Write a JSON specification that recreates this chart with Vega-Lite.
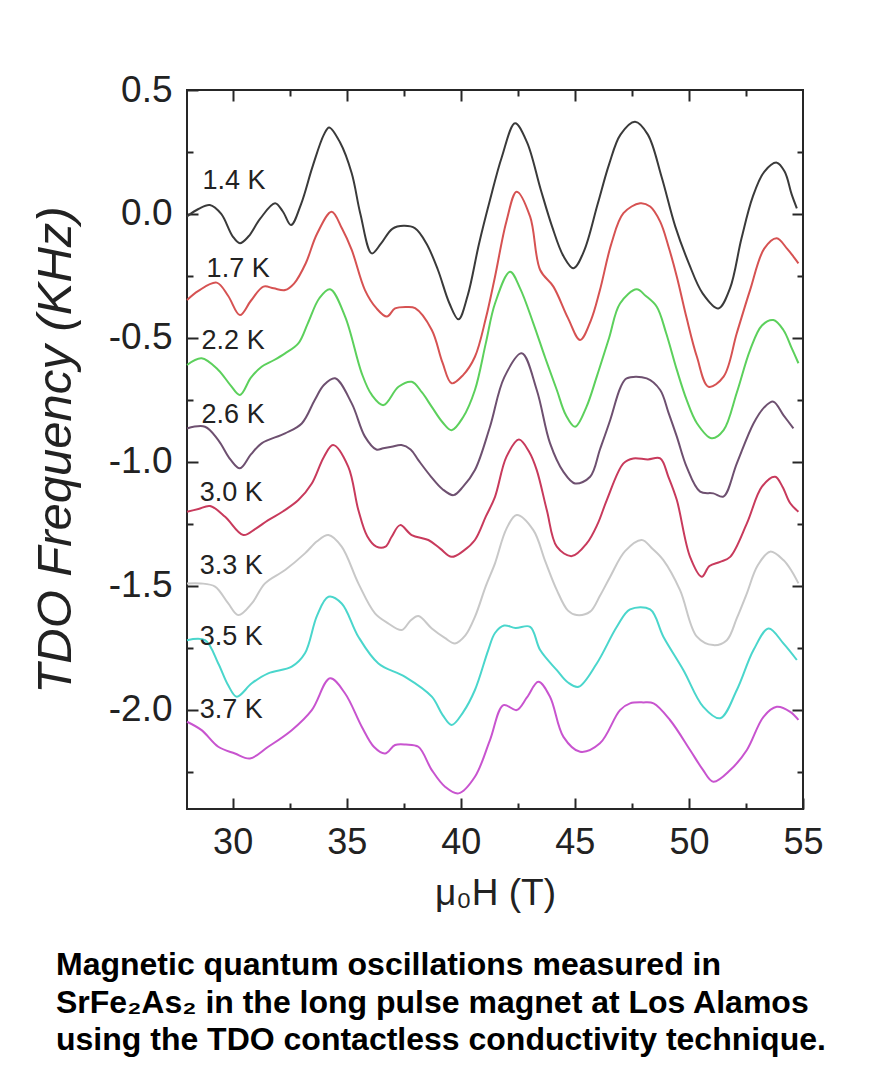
{
"$schema": "https://vega.github.io/schema/vega-lite/v6.json",
"width": 616, "height": 719,
"autosize": {"type": "none"},
"padding": {"left": 187, "top": 90, "right": 73, "bottom": 264},
"background": "white",
"config": {"view": {"stroke": "#262626", "strokeWidth": 2}, "font": "Liberation Sans"},
"title": {"text": ["Magnetic quantum oscillations measured in", "SrFe₂As₂ in the long pulse magnet at Los Alamos", "using the TDO contactless conductivity technique."], "orient": "bottom", "anchor": "start", "frame": "group", "dx": -131, "offset": 39, "fontSize": 32, "fontWeight": "bold", "font": "Liberation Sans", "lineHeight": 37.5, "color": "#000000"},
"datasets": {
"curves": [
{"T":"1.4 K","H":28.0,"f":-0.01},{"T":"1.4 K","H":28.5,"f":0.02},{"T":"1.4 K","H":29.0,"f":0.036},{"T":"1.4 K","H":29.5,"f":0.0},{"T":"1.4 K","H":30.0,"f":-0.09},{"T":"1.4 K","H":30.32,"f":-0.118},{"T":"1.4 K","H":30.7,"f":-0.09},{"T":"1.4 K","H":31.2,"f":-0.02},{"T":"1.4 K","H":31.86,"f":0.043},{"T":"1.4 K","H":32.2,"f":0.01},{"T":"1.4 K","H":32.56,"f":-0.045},{"T":"1.4 K","H":33.0,"f":0.04},{"T":"1.4 K","H":33.5,"f":0.19},{"T":"1.4 K","H":34.0,"f":0.32},{"T":"1.4 K","H":34.23,"f":0.349},{"T":"1.4 K","H":34.7,"f":0.29},{"T":"1.4 K","H":35.22,"f":0.164},{"T":"1.4 K","H":35.6,"f":0.0},{"T":"1.4 K","H":36.1,"f":-0.159},{"T":"1.4 K","H":36.5,"f":-0.12},{"T":"1.4 K","H":37.0,"f":-0.06},{"T":"1.4 K","H":37.5,"f":-0.048},{"T":"1.4 K","H":38.0,"f":-0.058},{"T":"1.4 K","H":38.5,"f":-0.12},{"T":"1.4 K","H":39.0,"f":-0.226},{"T":"1.4 K","H":39.5,"f":-0.36},{"T":"1.4 K","H":39.9,"f":-0.425},{"T":"1.4 K","H":40.3,"f":-0.33},{"T":"1.4 K","H":40.8,"f":-0.12},{"T":"1.4 K","H":41.28,"f":0.056},{"T":"1.4 K","H":41.8,"f":0.23},{"T":"1.4 K","H":42.38,"f":0.366},{"T":"1.4 K","H":42.9,"f":0.29},{"T":"1.4 K","H":43.5,"f":0.1},{"T":"1.4 K","H":44.0,"f":-0.05},{"T":"1.4 K","H":44.5,"f":-0.17},{"T":"1.4 K","H":44.94,"f":-0.219},{"T":"1.4 K","H":45.4,"f":-0.15},{"T":"1.4 K","H":46.0,"f":0.04},{"T":"1.4 K","H":46.5,"f":0.2},{"T":"1.4 K","H":47.0,"f":0.32},{"T":"1.4 K","H":47.64,"f":0.372},{"T":"1.4 K","H":48.2,"f":0.32},{"T":"1.4 K","H":48.8,"f":0.15},{"T":"1.4 K","H":49.4,"f":-0.05},{"T":"1.4 K","H":50.0,"f":-0.2},{"T":"1.4 K","H":50.6,"f":-0.32},{"T":"1.4 K","H":51.29,"f":-0.381},{"T":"1.4 K","H":51.8,"f":-0.3},{"T":"1.4 K","H":52.3,"f":-0.1},{"T":"1.4 K","H":52.8,"f":0.07},{"T":"1.4 K","H":53.3,"f":0.17},{"T":"1.4 K","H":53.85,"f":0.207},{"T":"1.4 K","H":54.2,"f":0.17},{"T":"1.4 K","H":54.5,"f":0.08},{"T":"1.4 K","H":54.73,"f":0.023},
{"T":"1.7 K","H":28.0,"f":-0.347},{"T":"1.7 K","H":28.5,"f":-0.31},{"T":"1.7 K","H":29.3,"f":-0.277},{"T":"1.7 K","H":29.8,"f":-0.33},{"T":"1.7 K","H":30.32,"f":-0.408},{"T":"1.7 K","H":30.8,"f":-0.35},{"T":"1.7 K","H":31.35,"f":-0.293},{"T":"1.7 K","H":31.8,"f":-0.3},{"T":"1.7 K","H":32.3,"f":-0.307},{"T":"1.7 K","H":32.7,"f":-0.28},{"T":"1.7 K","H":33.2,"f":-0.2},{"T":"1.7 K","H":33.7,"f":-0.08},{"T":"1.7 K","H":34.34,"f":0.009},{"T":"1.7 K","H":34.8,"f":-0.06},{"T":"1.7 K","H":35.22,"f":-0.145},{"T":"1.7 K","H":35.8,"f":-0.307},{"T":"1.7 K","H":36.3,"f":-0.38},{"T":"1.7 K","H":36.76,"f":-0.414},{"T":"1.7 K","H":37.12,"f":-0.381},{"T":"1.7 K","H":37.6,"f":-0.375},{"T":"1.7 K","H":38.0,"f":-0.38},{"T":"1.7 K","H":38.73,"f":-0.468},{"T":"1.7 K","H":39.2,"f":-0.6},{"T":"1.7 K","H":39.6,"f":-0.683},{"T":"1.7 K","H":40.1,"f":-0.65},{"T":"1.7 K","H":40.62,"f":-0.576},{"T":"1.7 K","H":41.1,"f":-0.42},{"T":"1.7 K","H":41.5,"f":-0.253},{"T":"1.7 K","H":42.0,"f":-0.03},{"T":"1.7 K","H":42.45,"f":0.09},{"T":"1.7 K","H":43.04,"f":-0.011},{"T":"1.7 K","H":43.48,"f":-0.226},{"T":"1.7 K","H":44.06,"f":-0.293},{"T":"1.7 K","H":44.7,"f":-0.42},{"T":"1.7 K","H":45.23,"f":-0.508},{"T":"1.7 K","H":45.7,"f":-0.43},{"T":"1.7 K","H":46.1,"f":-0.307},{"T":"1.7 K","H":46.6,"f":-0.12},{"T":"1.7 K","H":47.13,"f":0.003},{"T":"1.7 K","H":47.86,"f":0.043},{"T":"1.7 K","H":48.3,"f":0.03},{"T":"1.7 K","H":48.74,"f":-0.031},{"T":"1.7 K","H":49.1,"f":-0.13},{"T":"1.7 K","H":49.47,"f":-0.253},{"T":"1.7 K","H":49.9,"f":-0.42},{"T":"1.7 K","H":50.35,"f":-0.576},{"T":"1.7 K","H":50.86,"f":-0.697},{"T":"1.7 K","H":51.52,"f":-0.656},{"T":"1.7 K","H":52.1,"f":-0.48},{"T":"1.7 K","H":52.68,"f":-0.307},{"T":"1.7 K","H":53.3,"f":-0.14},{"T":"1.7 K","H":53.85,"f":-0.098},{"T":"1.7 K","H":54.3,"f":-0.14},{"T":"1.7 K","H":54.58,"f":-0.172},{"T":"1.7 K","H":54.8,"f":-0.199},
{"T":"2.2 K","H":28.0,"f":-0.609},{"T":"2.2 K","H":28.64,"f":-0.582},{"T":"2.2 K","H":29.37,"f":-0.629},{"T":"2.2 K","H":29.9,"f":-0.69},{"T":"2.2 K","H":30.32,"f":-0.73},{"T":"2.2 K","H":30.8,"f":-0.66},{"T":"2.2 K","H":31.27,"f":-0.616},{"T":"2.2 K","H":31.8,"f":-0.59},{"T":"2.2 K","H":32.3,"f":-0.562},{"T":"2.2 K","H":32.88,"f":-0.522},{"T":"2.2 K","H":33.3,"f":-0.44},{"T":"2.2 K","H":33.8,"f":-0.34},{"T":"2.2 K","H":34.27,"f":-0.304},{"T":"2.2 K","H":34.93,"f":-0.414},{"T":"2.2 K","H":35.66,"f":-0.643},{"T":"2.2 K","H":36.1,"f":-0.73},{"T":"2.2 K","H":36.61,"f":-0.771},{"T":"2.2 K","H":37.27,"f":-0.697},{"T":"2.2 K","H":37.85,"f":-0.677},{"T":"2.2 K","H":38.3,"f":-0.72},{"T":"2.2 K","H":38.73,"f":-0.778},{"T":"2.2 K","H":39.2,"f":-0.84},{"T":"2.2 K","H":39.6,"f":-0.872},{"T":"2.2 K","H":40.1,"f":-0.82},{"T":"2.2 K","H":40.62,"f":-0.71},{"T":"2.2 K","H":41.1,"f":-0.52},{"T":"2.2 K","H":41.5,"f":-0.361},{"T":"2.2 K","H":42.16,"f":-0.233},{"T":"2.2 K","H":42.6,"f":-0.3},{"T":"2.2 K","H":43.18,"f":-0.441},{"T":"2.2 K","H":43.7,"f":-0.58},{"T":"2.2 K","H":44.21,"f":-0.71},{"T":"2.2 K","H":44.6,"f":-0.81},{"T":"2.2 K","H":45.01,"f":-0.858},{"T":"2.2 K","H":45.5,"f":-0.78},{"T":"2.2 K","H":45.96,"f":-0.656},{"T":"2.2 K","H":46.5,"f":-0.5},{"T":"2.2 K","H":46.98,"f":-0.361},{"T":"2.2 K","H":47.71,"f":-0.304},{"T":"2.2 K","H":48.1,"f":-0.33},{"T":"2.2 K","H":48.59,"f":-0.374},{"T":"2.2 K","H":49.0,"f":-0.48},{"T":"2.2 K","H":49.47,"f":-0.629},{"T":"2.2 K","H":49.9,"f":-0.75},{"T":"2.2 K","H":50.35,"f":-0.844},{"T":"2.2 K","H":51.0,"f":-0.905},{"T":"2.2 K","H":51.52,"f":-0.872},{"T":"2.2 K","H":52.1,"f":-0.72},{"T":"2.2 K","H":52.68,"f":-0.549},{"T":"2.2 K","H":53.2,"f":-0.45},{"T":"2.2 K","H":53.7,"f":-0.428},{"T":"2.2 K","H":54.14,"f":-0.468},{"T":"2.2 K","H":54.5,"f":-0.54},{"T":"2.2 K","H":54.8,"f":-0.602},
{"T":"2.6 K","H":28.0,"f":-0.865},{"T":"2.6 K","H":28.79,"f":-0.858},{"T":"2.6 K","H":29.37,"f":-0.912},{"T":"2.6 K","H":29.9,"f":-0.99},{"T":"2.6 K","H":30.32,"f":-1.026},{"T":"2.6 K","H":30.8,"f":-0.97},{"T":"2.6 K","H":31.27,"f":-0.925},{"T":"2.6 K","H":32.3,"f":-0.885},{"T":"2.6 K","H":33.03,"f":-0.845},{"T":"2.6 K","H":33.6,"f":-0.75},{"T":"2.6 K","H":34.0,"f":-0.69},{"T":"2.6 K","H":34.49,"f":-0.663},{"T":"2.6 K","H":35.22,"f":-0.764},{"T":"2.6 K","H":35.8,"f":-0.898},{"T":"2.6 K","H":36.3,"f":-0.95},{"T":"2.6 K","H":36.6,"f":-0.945},{"T":"2.6 K","H":36.97,"f":-0.939},{"T":"2.6 K","H":37.4,"f":-0.932},{"T":"2.6 K","H":37.8,"f":-0.95},{"T":"2.6 K","H":38.14,"f":-0.993},{"T":"2.6 K","H":38.7,"f":-1.06},{"T":"2.6 K","H":39.2,"f":-1.11},{"T":"2.6 K","H":39.68,"f":-1.134},{"T":"2.6 K","H":40.1,"f":-1.1},{"T":"2.6 K","H":40.62,"f":-1.033},{"T":"2.6 K","H":41.28,"f":-0.858},{"T":"2.6 K","H":41.9,"f":-0.66},{"T":"2.6 K","H":42.67,"f":-0.562},{"T":"2.6 K","H":43.33,"f":-0.71},{"T":"2.6 K","H":43.91,"f":-0.924},{"T":"2.6 K","H":44.5,"f":-1.04},{"T":"2.6 K","H":45.01,"f":-1.087},{"T":"2.6 K","H":45.67,"f":-1.06},{"T":"2.6 K","H":46.1,"f":-0.95},{"T":"2.6 K","H":46.55,"f":-0.831},{"T":"2.6 K","H":47.0,"f":-0.7},{"T":"2.6 K","H":47.27,"f":-0.663},{"T":"2.6 K","H":48.15,"f":-0.663},{"T":"2.6 K","H":48.74,"f":-0.71},{"T":"2.6 K","H":49.1,"f":-0.8},{"T":"2.6 K","H":49.47,"f":-0.898},{"T":"2.6 K","H":49.9,"f":-1.02},{"T":"2.6 K","H":50.49,"f":-1.12},{"T":"2.6 K","H":51.07,"f":-1.127},{"T":"2.6 K","H":51.51,"f":-1.14},{"T":"2.6 K","H":52.1,"f":-1.006},{"T":"2.6 K","H":52.83,"f":-0.845},{"T":"2.6 K","H":53.3,"f":-0.78},{"T":"2.6 K","H":53.7,"f":-0.757},{"T":"2.6 K","H":54.14,"f":-0.811},{"T":"2.6 K","H":54.58,"f":-0.865},
{"T":"3.0 K","H":28.0,"f":-1.201},{"T":"3.0 K","H":28.5,"f":-1.19},{"T":"3.0 K","H":29.01,"f":-1.178},{"T":"3.0 K","H":29.67,"f":-1.221},{"T":"3.0 K","H":30.47,"f":-1.295},{"T":"3.0 K","H":31.0,"f":-1.27},{"T":"3.0 K","H":31.56,"f":-1.235},{"T":"3.0 K","H":32.2,"f":-1.2},{"T":"3.0 K","H":32.88,"f":-1.154},{"T":"3.0 K","H":33.47,"f":-1.087},{"T":"3.0 K","H":34.0,"f":-0.98},{"T":"3.0 K","H":34.4,"f":-0.932},{"T":"3.0 K","H":35.07,"f":-1.02},{"T":"3.0 K","H":35.51,"f":-1.194},{"T":"3.0 K","H":35.9,"f":-1.3},{"T":"3.0 K","H":36.3,"f":-1.342},{"T":"3.0 K","H":36.7,"f":-1.342},{"T":"3.0 K","H":36.97,"f":-1.302},{"T":"3.0 K","H":37.34,"f":-1.255},{"T":"3.0 K","H":37.85,"f":-1.295},{"T":"3.0 K","H":38.58,"f":-1.315},{"T":"3.0 K","H":39.1,"f":-1.35},{"T":"3.0 K","H":39.6,"f":-1.383},{"T":"3.0 K","H":40.1,"f":-1.36},{"T":"3.0 K","H":40.62,"f":-1.315},{"T":"3.0 K","H":41.1,"f":-1.22},{"T":"3.0 K","H":41.5,"f":-1.141},{"T":"3.0 K","H":42.0,"f":-0.98},{"T":"3.0 K","H":42.55,"f":-0.91},{"T":"3.0 K","H":43.0,"f":-0.96},{"T":"3.0 K","H":43.33,"f":-1.033},{"T":"3.0 K","H":43.77,"f":-1.194},{"T":"3.0 K","H":44.21,"f":-1.342},{"T":"3.0 K","H":44.87,"f":-1.38},{"T":"3.0 K","H":45.52,"f":-1.329},{"T":"3.0 K","H":46.0,"f":-1.25},{"T":"3.0 K","H":46.4,"f":-1.154},{"T":"3.0 K","H":47.13,"f":-1.006},{"T":"3.0 K","H":47.56,"f":-0.986},{"T":"3.0 K","H":48.2,"f":-0.99},{"T":"3.0 K","H":48.74,"f":-0.986},{"T":"3.0 K","H":49.1,"f":-1.06},{"T":"3.0 K","H":49.47,"f":-1.154},{"T":"3.0 K","H":50.05,"f":-1.383},{"T":"3.0 K","H":50.56,"f":-1.463},{"T":"3.0 K","H":50.9,"f":-1.42},{"T":"3.0 K","H":51.37,"f":-1.403},{"T":"3.0 K","H":51.81,"f":-1.383},{"T":"3.0 K","H":52.54,"f":-1.248},{"T":"3.0 K","H":53.2,"f":-1.1},{"T":"3.0 K","H":53.78,"f":-1.06},{"T":"3.0 K","H":54.1,"f":-1.1},{"T":"3.0 K","H":54.44,"f":-1.167},{"T":"3.0 K","H":54.8,"f":-1.201},
{"T":"3.3 K","H":28.0,"f":-1.49},{"T":"3.3 K","H":28.6,"f":-1.49},{"T":"3.3 K","H":29.23,"f":-1.503},{"T":"3.3 K","H":29.8,"f":-1.57},{"T":"3.3 K","H":30.25,"f":-1.618},{"T":"3.3 K","H":30.84,"f":-1.571},{"T":"3.3 K","H":31.42,"f":-1.49},{"T":"3.3 K","H":32.3,"f":-1.436},{"T":"3.3 K","H":33.17,"f":-1.369},{"T":"3.3 K","H":33.7,"f":-1.32},{"T":"3.3 K","H":34.2,"f":-1.295},{"T":"3.3 K","H":34.78,"f":-1.342},{"T":"3.3 K","H":35.51,"f":-1.49},{"T":"3.3 K","H":36.24,"f":-1.611},{"T":"3.3 K","H":36.8,"f":-1.65},{"T":"3.3 K","H":37.41,"f":-1.678},{"T":"3.3 K","H":37.8,"f":-1.64},{"T":"3.3 K","H":38.14,"f":-1.622},{"T":"3.3 K","H":38.73,"f":-1.672},{"T":"3.3 K","H":39.3,"f":-1.71},{"T":"3.3 K","H":39.75,"f":-1.732},{"T":"3.3 K","H":40.2,"f":-1.7},{"T":"3.3 K","H":40.62,"f":-1.625},{"T":"3.3 K","H":41.1,"f":-1.5},{"T":"3.3 K","H":41.5,"f":-1.409},{"T":"3.3 K","H":42.0,"f":-1.27},{"T":"3.3 K","H":42.45,"f":-1.214},{"T":"3.3 K","H":43.18,"f":-1.275},{"T":"3.3 K","H":43.7,"f":-1.4},{"T":"3.3 K","H":44.21,"f":-1.517},{"T":"3.3 K","H":44.7,"f":-1.6},{"T":"3.3 K","H":45.08,"f":-1.618},{"T":"3.3 K","H":45.67,"f":-1.604},{"T":"3.3 K","H":46.1,"f":-1.54},{"T":"3.3 K","H":46.55,"f":-1.463},{"T":"3.3 K","H":47.2,"f":-1.36},{"T":"3.3 K","H":47.93,"f":-1.315},{"T":"3.3 K","H":48.4,"f":-1.35},{"T":"3.3 K","H":48.88,"f":-1.396},{"T":"3.3 K","H":49.61,"f":-1.517},{"T":"3.3 K","H":50.35,"f":-1.705},{"T":"3.3 K","H":51.07,"f":-1.739},{"T":"3.3 K","H":51.66,"f":-1.719},{"T":"3.3 K","H":52.1,"f":-1.63},{"T":"3.3 K","H":52.54,"f":-1.53},{"T":"3.3 K","H":53.0,"f":-1.42},{"T":"3.3 K","H":53.56,"f":-1.362},{"T":"3.3 K","H":54.14,"f":-1.396},{"T":"3.3 K","H":54.5,"f":-1.44},{"T":"3.3 K","H":54.8,"f":-1.49},
{"T":"3.5 K","H":28.0,"f":-1.719},{"T":"3.5 K","H":28.79,"f":-1.719},{"T":"3.5 K","H":29.37,"f":-1.813},{"T":"3.5 K","H":29.8,"f":-1.9},{"T":"3.5 K","H":30.18,"f":-1.947},{"T":"3.5 K","H":30.84,"f":-1.893},{"T":"3.5 K","H":31.56,"f":-1.853},{"T":"3.5 K","H":32.59,"f":-1.826},{"T":"3.5 K","H":33.17,"f":-1.772},{"T":"3.5 K","H":33.7,"f":-1.62},{"T":"3.5 K","H":34.2,"f":-1.544},{"T":"3.5 K","H":34.78,"f":-1.571},{"T":"3.5 K","H":35.51,"f":-1.705},{"T":"3.5 K","H":36.39,"f":-1.813},{"T":"3.5 K","H":37.56,"f":-1.867},{"T":"3.5 K","H":38.73,"f":-1.947},{"T":"3.5 K","H":39.2,"f":-2.02},{"T":"3.5 K","H":39.6,"f":-2.061},{"T":"3.5 K","H":40.1,"f":-2.01},{"T":"3.5 K","H":40.62,"f":-1.92},{"T":"3.5 K","H":41.2,"f":-1.76},{"T":"3.5 K","H":41.5,"f":-1.69},{"T":"3.5 K","H":41.9,"f":-1.66},{"T":"3.5 K","H":42.4,"f":-1.67},{"T":"3.5 K","H":43.04,"f":-1.665},{"T":"3.5 K","H":43.48,"f":-1.759},{"T":"3.5 K","H":44.21,"f":-1.84},{"T":"3.5 K","H":44.7,"f":-1.89},{"T":"3.5 K","H":45.16,"f":-1.907},{"T":"3.5 K","H":45.96,"f":-1.813},{"T":"3.5 K","H":46.84,"f":-1.665},{"T":"3.5 K","H":47.42,"f":-1.595},{"T":"3.5 K","H":48.3,"f":-1.595},{"T":"3.5 K","H":48.88,"f":-1.705},{"T":"3.5 K","H":49.76,"f":-1.84},{"T":"3.5 K","H":50.63,"f":-1.988},{"T":"3.5 K","H":51.37,"f":-2.034},{"T":"3.5 K","H":52.1,"f":-1.92},{"T":"3.5 K","H":52.83,"f":-1.759},{"T":"3.5 K","H":53.49,"f":-1.672},{"T":"3.5 K","H":54.14,"f":-1.732},{"T":"3.5 K","H":54.73,"f":-1.799},
{"T":"3.7 K","H":28.0,"f":-2.048},{"T":"3.7 K","H":28.64,"f":-2.082},{"T":"3.7 K","H":29.37,"f":-2.149},{"T":"3.7 K","H":30.1,"f":-2.176},{"T":"3.7 K","H":30.76,"f":-2.196},{"T":"3.7 K","H":31.56,"f":-2.149},{"T":"3.7 K","H":32.59,"f":-2.082},{"T":"3.7 K","H":33.47,"f":-2.001},{"T":"3.7 K","H":34.27,"f":-1.873},{"T":"3.7 K","H":34.93,"f":-1.934},{"T":"3.7 K","H":35.66,"f":-2.068},{"T":"3.7 K","H":36.2,"f":-2.15},{"T":"3.7 K","H":36.68,"f":-2.176},{"T":"3.7 K","H":37.12,"f":-2.142},{"T":"3.7 K","H":37.6,"f":-2.14},{"T":"3.7 K","H":38.14,"f":-2.149},{"T":"3.7 K","H":38.73,"f":-2.243},{"T":"3.7 K","H":39.31,"f":-2.31},{"T":"3.7 K","H":39.9,"f":-2.337},{"T":"3.7 K","H":40.62,"f":-2.27},{"T":"3.7 K","H":41.28,"f":-2.122},{"T":"3.7 K","H":41.87,"f":-1.981},{"T":"3.7 K","H":42.45,"f":-2.001},{"T":"3.7 K","H":42.9,"f":-1.95},{"T":"3.7 K","H":43.4,"f":-1.887},{"T":"3.7 K","H":43.91,"f":-1.947},{"T":"3.7 K","H":44.5,"f":-2.109},{"T":"3.7 K","H":45.23,"f":-2.169},{"T":"3.7 K","H":46.1,"f":-2.135},{"T":"3.7 K","H":46.98,"f":-2.001},{"T":"3.7 K","H":47.42,"f":-1.974},{"T":"3.7 K","H":48.0,"f":-1.97},{"T":"3.7 K","H":48.45,"f":-1.974},{"T":"3.7 K","H":49.17,"f":-2.041},{"T":"3.7 K","H":50.05,"f":-2.162},{"T":"3.7 K","H":50.6,"f":-2.24},{"T":"3.7 K","H":51.07,"f":-2.29},{"T":"3.7 K","H":51.81,"f":-2.243},{"T":"3.7 K","H":52.54,"f":-2.162},{"T":"3.7 K","H":53.27,"f":-2.028},{"T":"3.7 K","H":53.85,"f":-1.988},{"T":"3.7 K","H":54.44,"f":-2.008},{"T":"3.7 K","H":54.8,"f":-2.041}
],
"labels": [
{"T":"1.4 K","H":28.68,"f":0.101},{"T":"1.7 K","H":28.86,"f":-0.254},{"T":"2.2 K","H":28.64,"f":-0.545},{"T":"2.6 K","H":28.64,"f":-0.843},{"T":"3.0 K","H":28.56,"f":-1.158},{"T":"3.3 K","H":28.56,"f":-1.452},{"T":"3.5 K","H":28.56,"f":-1.739},{"T":"3.7 K","H":28.56,"f":-2.033}
]
},
"layer": [
{"data": {"name": "curves"},
 "mark": {"type": "line", "interpolate": "catmull-rom", "strokeWidth": 2},
 "encoding": {
  "x": {"field": "H", "type": "quantitative", "scale": {"domain": [28, 55], "nice": false, "zero": false},
   "axis": {"orient": "bottom", "values": [30, 32.5, 35, 37.5, 40, 42.5, 45, 47.5, 50, 52.5, 55], "labelExpr": "datum.value % 5 === 0 ? datum.label : ''", "labelOverlap": false, "labelFlush": false, "tickSize": {"condition": {"test": "datum.value % 5 === 0", "value": -11}, "value": -6}, "tickWidth": 2, "tickColor": "#262626", "domain": false, "grid": false, "labelFontSize": 36, "labelFont": "Liberation Sans", "labelColor": "#222222", "labelPadding": 27, "title": "μ₀H (T)", "titleFont": "Liberation Sans", "titleFontSize": 37, "titleFontWeight": "normal", "titleColor": "#222222", "titlePadding": 10}},
  "y": {"field": "f", "type": "quantitative", "scale": {"domain": [-2.4, 0.5], "nice": false, "zero": false},
   "axis": {"orient": "left", "values": [-2.25, -2, -1.75, -1.5, -1.25, -1, -0.75, -0.5, -0.25, 0, 0.25, 0.5], "labelExpr": "datum.value % 0.5 === 0 ? replace(format(datum.value, '.1f'), '−', '-') : ''", "labelOverlap": false, "labelFlush": false, "tickSize": {"condition": {"test": "datum.value % 0.5 === 0", "value": -11}, "value": -6}, "tickWidth": 2, "tickColor": "#262626", "domain": false, "grid": false, "labelFontSize": 37, "labelFont": "Liberation Sans", "labelColor": "#222222", "labelPadding": 26, "title": "TDO Frequency (KHz)", "titleFont": "Liberation Sans", "titleFontSize": 49, "titleFontStyle": "italic", "titleFontWeight": "normal", "titleColor": "#222222", "titlePadding": 28}},
  "color": {"field": "T", "type": "nominal", "legend": null,
   "scale": {"domain": ["1.4 K", "1.7 K", "2.2 K", "2.6 K", "3.0 K", "3.3 K", "3.5 K", "3.7 K"],
             "range": ["#3a3a3a", "#d65252", "#5cd05c", "#6e5070", "#c83a5c", "#c8c8c8", "#4ad6cc", "#c854cf"]}}
 }},
{"data": {"name": "labels"},
 "mark": {"type": "text", "align": "left", "baseline": "alphabetic", "fontSize": 27, "font": "Liberation Sans", "color": "#222222"},
 "encoding": {
  "x": {"field": "H", "type": "quantitative",
   "axis": {"orient": "top", "values": [30, 32.5, 35, 37.5, 40, 42.5, 45, 47.5, 50, 52.5], "labels": false, "title": null, "domain": false, "grid": false, "tickSize": {"condition": {"test": "datum.value % 5 === 0", "value": -11}, "value": -6}, "tickWidth": 2, "tickColor": "#262626"}},
  "y": {"field": "f", "type": "quantitative",
   "axis": {"orient": "right", "values": [-2.25, -2, -1.75, -1.5, -1.25, -1, -0.75, -0.5, -0.25, 0, 0.25], "labels": false, "title": null, "domain": false, "grid": false, "tickSize": {"condition": {"test": "datum.value % 0.5 === 0", "value": -11}, "value": -6}, "tickWidth": 2, "tickColor": "#262626"}},
  "text": {"field": "T"}
 }}
],
"resolve": {"axis": {"x": "independent", "y": "independent"}}
}
